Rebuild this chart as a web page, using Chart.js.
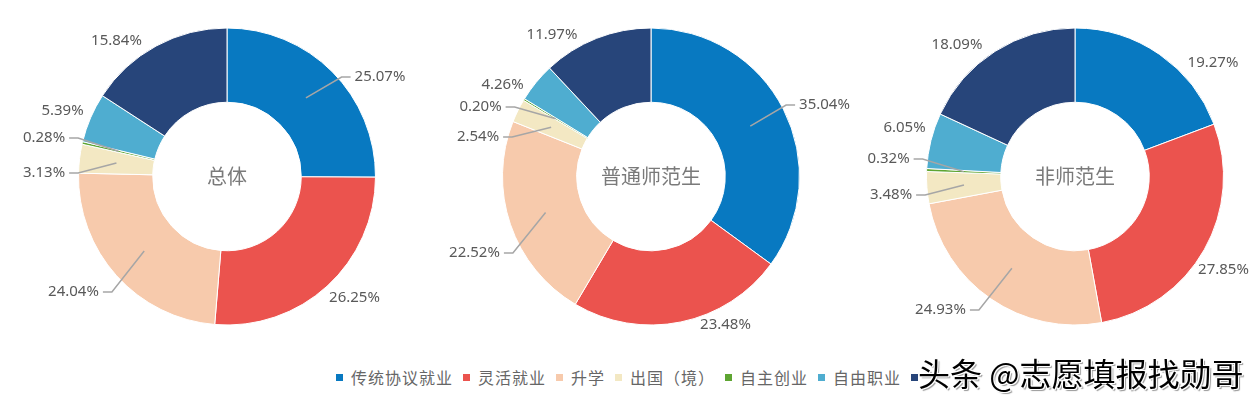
<!DOCTYPE html>
<html>
<head>
<meta charset="utf-8">
<script src="https://cdn.jsdelivr.net/npm/chart.js@4"></script>
<style>
  body { margin: 0; background: #fff; width: 1260px; height: 399px; overflow: hidden; position: relative;
         font-family: "Noto Sans CJK SC", sans-serif; }
  .box { position: absolute; top: 0; width: 440px; height: 360px; }
  #legend { position: absolute; left: 336px; top: 365px; display: flex; align-items: center;
            font-size: 16px; color: #666; letter-spacing: 1px; white-space: nowrap; }
  #legend .item { display: flex; align-items: center; margin-right: 10px; }
  #legend .mk { width: 7px; height: 7px; margin-right: 8px; }
  #mark { position: absolute; left: 918px; top: 351px; font-size: 32px; line-height: 42px; color: #000;
          background: #fff; padding: 0 4px 0 0; white-space: nowrap;
          text-shadow: 1px 1px 0 #fff, -1px -1px 0 #fff, 1px -1px 0 #fff, -1px 1px 0 #fff, 2px 2px 1px #999; }
</style>
</head>
<body>
<div class="box" id="b0"><canvas id="c0"></canvas></div>
<div class="box" id="b1"><canvas id="c1"></canvas></div>
<div class="box" id="b2"><canvas id="c2"></canvas></div>
<div id="legend"></div>
<div id="mark">头条 @志愿填报找勋哥</div>
<script>
// categories (legend order)
var categories = ["传统协议就业", "灵活就业", "升学", "出国（境）", "自主创业", "自由职业", "待就业"];
var colors = ["#0879C1", "#EB534E", "#F7CAAC", "#F3E8C3", "#5EA532", "#4FADD0", "#27457A"];

// chart titles (shown in the hole)
var titles = ["总体", "普通师范生", "非师范生"];

// percentages per chart
var zongti     = [25.07, 26.25, 24.04, 3.13, 0.28, 5.39, 15.84];
var shifan     = [35.04, 23.48, 22.52, 2.54, 0.20, 4.26, 11.97];
var feishifan  = [19.27, 27.85, 24.93, 3.48, 0.32, 6.05, 18.09];
var series = [zongti, shifan, feishifan];

// label placement relative to the pie centre: [dx, dy, leader line?]
var labelPos = [
  [[153,-99.5,1],[127.5,121.5,0],[-153.5,115.5,1],[-183,-3.5,1],[-183,-38.5,1],[-164.5,-65.5,0],[-110.5,-135.5,0]],
  [[173.5,-71.5,1],[74.5,148.5,0],[-176.5,76.5,1],[-173,-39.5,1],[-170.5,-69.5,1],[-148.5,-91.5,0],[-99,-141.5,0]],
  [[138,-113.5,0],[148.5,93.5,0],[-134.5,133.5,1],[-184,18.5,1],[-186.5,-17.5,1],[-170.5,-48.5,0],[-118,-131.5,0]]
];
var centersX = [227, 650.5, 1075];

var pctLabels = {
  id: 'pctLabels',
  afterDatasetsDraw(chart, args, opts) {
    const ctx = chart.ctx;
    const meta = chart.getDatasetMeta(0);
    const vals = chart.data.datasets[0].data;
    ctx.save();
    ctx.font = '15px "Noto Sans"';
    ctx.textAlign = 'center';
    ctx.textBaseline = 'middle';
    meta.data.forEach((arc, i) => {
      const p = arc.getProps(['x', 'y', 'startAngle', 'endAngle', 'innerRadius', 'outerRadius']);
      const lp = opts.pos[i];
      const tx = p.x + lp[0], ty = p.y + lp[1];
      const txt = vals[i].toFixed(2) + '%';
      if (lp[2]) {
        const w = ctx.measureText(txt).width;
        const mid = (p.startAngle + p.endAngle) / 2;
        const r = (p.innerRadius + p.outerRadius) / 2;
        const sx = p.x + Math.cos(mid) * r, sy = p.y + Math.sin(mid) * r;
        let edge, elbow;
        if (tx < p.x) { edge = tx + w / 2 + 4; elbow = edge + 9; }
        else { edge = tx - w / 2 - 4; elbow = edge - 9; }
        ctx.strokeStyle = '#a6a6a6';
        ctx.lineWidth = 1.5;
        ctx.beginPath();
        ctx.moveTo(sx, sy);
        ctx.lineTo(elbow, ty);
        ctx.lineTo(edge, ty);
        ctx.stroke();
      }
      ctx.fillStyle = '#595959';
      ctx.fillText(txt, tx, ty);
    });
    // title in the hole
    ctx.font = '20px "Noto Sans CJK SC"';
    ctx.fillStyle = '#7a7a7a';
    const a0 = meta.data[0];
    ctx.fillText(opts.title, a0.x, a0.y);
    ctx.restore();
  }
};

series.forEach(function (vals, k) {
  var box = document.getElementById('b' + k);
  box.style.left = (centersX[k] - 220) + 'px';
  new Chart(document.getElementById('c' + k), {
    type: 'doughnut',
    data: {
      labels: categories,
      datasets: [{
        data: vals,
        backgroundColor: colors,
        borderColor: '#ffffff',
        borderWidth: 1,
        hoverOffset: 0
      }]
    },
    options: {
      responsive: true,
      maintainAspectRatio: false,
      animation: false,
      radius: 148.5,
      cutout: '50%',
      layout: { padding: { bottom: 7 } },
      events: [],
      plugins: {
        legend: { display: false },
        tooltip: { enabled: false },
        pctLabels: { pos: labelPos[k], title: titles[k] }
      }
    },
    plugins: [pctLabels]
  });
});

// legend built from the same categories / colours
var lg = document.getElementById('legend');
categories.forEach(function (c, i) {
  var it = document.createElement('div');
  it.className = 'item';
  it.innerHTML = '<span class="mk" style="background:' + colors[i] + '"></span><span>' + c + '</span>';
  lg.appendChild(it);
});
</script>
</body>
</html>
